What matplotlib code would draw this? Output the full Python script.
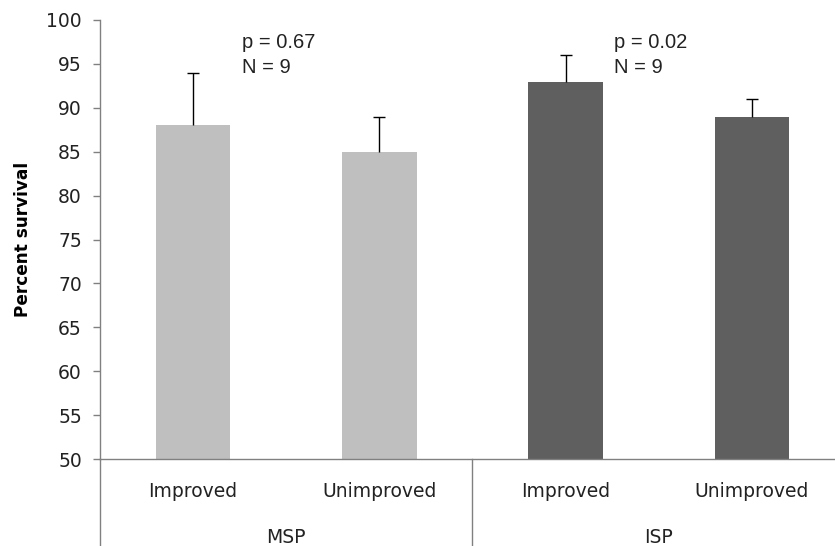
import numpy as np
import matplotlib.pyplot as plt
import matplotlib.transforms as mtransforms

# ---- data ----
groups = ['MSP', 'ISP']
conditions = ['Improved', 'Unimproved', 'Improved', 'Unimproved']
survival = [88.0, 85.0, 92.9, 89.0]
err_up = [6.0, 4.0, 3.1, 2.0]
bar_colors = ['#bfbfbf', '#bfbfbf', '#5f5f5f', '#5f5f5f']
p_labels = ['p = 0.67\nN = 9', 'p = 0.02\nN = 9']

fig = plt.figure(figsize=(8.35, 5.46), dpi=100)
ax = fig.add_axes([0.1198, 0.1593, 0.892, 0.8041])

x = np.arange(len(survival))
tops = np.array(survival) + np.array(err_up)
ax.bar(x, survival, width=0.40, color=bar_colors, zorder=2)
# upper error bars only (no cap at the bar top)
ax.vlines(x, survival, tops, color='black', lw=1.0, zorder=3)
ax.plot(x, tops, ls='none', marker='_', ms=9, mew=1.0, color='black', zorder=3)

ax.set_ylim(50, 100)
ax.set_xlim(-0.5, len(survival) - 0.5)
ax.set_yticks(np.arange(50, 101, 5))
ax.tick_params(axis='y', length=5, width=1, color='#808080', pad=8, labelsize=13.5,
               labelcolor='#222222')
ax.tick_params(axis='x', bottom=False, labelbottom=False)
for s in ['top', 'right']:
    ax.spines[s].set_visible(False)
for s in ['left', 'bottom']:
    ax.spines[s].set_color('#808080')
    ax.spines[s].set_linewidth(1)

ax.set_ylabel('Percent survival', fontsize=12.2, fontweight='bold', labelpad=10)

# multi-level category axis
trans = mtransforms.blended_transform_factory(ax.transData, ax.transAxes)
for xv in [-0.5, 1.5, 3.5]:
    ax.plot([xv, xv], [0, -0.3], transform=trans, color='#808080', lw=1, clip_on=False)
for i, c in enumerate(conditions):
    ax.text(i, -0.075, c, transform=trans, ha='center', va='center', fontsize=13.5,
            color='#222222')
for g, name in enumerate(groups):
    ax.text(2 * g + 0.5, -0.178, name, transform=trans, ha='center', va='center',
            fontsize=13.5, color='#222222')

# annotations
for g, lbl in enumerate(p_labels):
    ax.text(2 * g + 0.26, 96.0, lbl, ha='left', va='center', fontsize=14.5,
            family=['Liberation Sans', 'DejaVu Sans'], linespacing=1.4, color='#222222')

fig.savefig('out.png', dpi=100)
